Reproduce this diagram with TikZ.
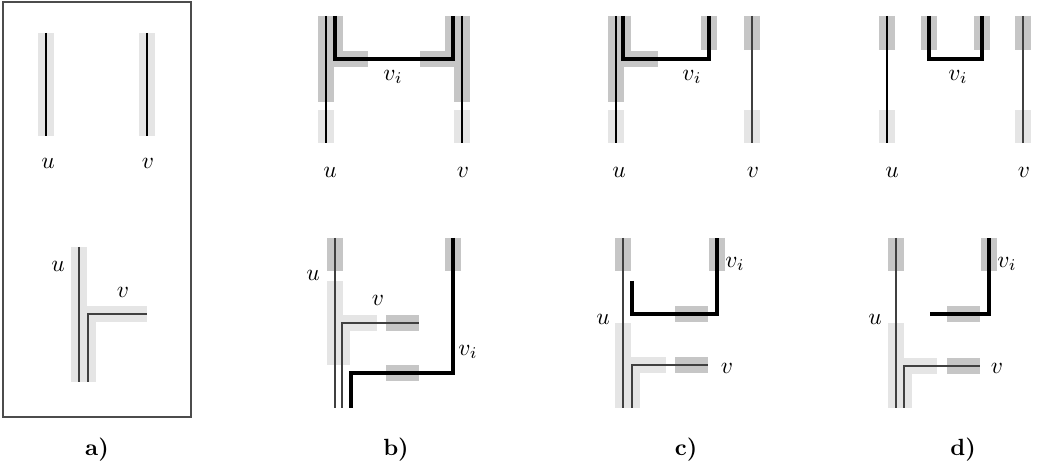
\documentclass[tikz,border=0pt]{standalone}
\usepackage{amsmath,amssymb}
\usepackage{xcolor}
\usepackage{tikz}

\begin{document}
\begin{tikzpicture}[
  x=0.015cm, y=-0.015cm,
  lightband/.style={line width=0.24cm, draw=gray!20},
  darkband/.style={line width=0.24cm, draw=gray!45},
  wire/.style={line width=0.7pt, draw=black!75},
  viwire/.style={line width=1.3pt, draw=black},
  lbl/.style={inner sep=0pt, font=\normalsize},
  caption/.style={inner sep=0pt, font=\bfseries}
]
\useasboundingbox (0,0) rectangle (1038,474);

% panel a
\draw [line width=0.7pt, black!70] (3,2) rectangle (191,417);
\draw [lightband] (46,33) -- (46,136);
\draw [lightband] (147,33) -- (147,136);
\draw [lightband] (79,247) -- (79,382);
\draw [lightband, miter limit=4] (88,382) -- (88,314) -- (147,314);
\draw [wire, black] (46,33) -- (46,136);
\draw [wire, black] (147,33) -- (147,136);
\draw [wire] (79,247) -- (79,382);
\draw [wire] (88,382) -- (88,314) -- (147,314);
\node (ua1) [lbl] at (48,163) {$u$};
\node (va1) [lbl] at (148,163) {$v$};
\node (ua2) [lbl] at (58,266) {$u$};
\node (va2) [lbl] at (123,292) {$v$};

% panel b
\draw [darkband] (326,16) -- (326,102);
\draw [darkband] (462,16) -- (462,102);
\draw [darkband] (335,16) -- (335,59) -- (368,59);
\draw [darkband] (420,59) -- (453,59) -- (453,16);
\draw [lightband] (326,110) -- (326,143);
\draw [lightband] (462,110) -- (462,143);
\draw [wire, black] (326,16) -- (326,143);
\draw [wire, black] (462,16) -- (462,143);
\draw [viwire] (335,16) -- (335,59) -- (453,59) -- (453,16);
\node (vib1) [lbl] at (393,77) {$v_i$};
\node (ub1) [lbl] at (330,172) {$u$};
\node (vb1) [lbl] at (463,172) {$v$};

\draw [darkband] (335,238) -- (335,271);
\draw [darkband] (453,238) -- (453,271);
\draw [darkband] (386,323) -- (419,323);
\draw [darkband] (386,373) -- (419,373);
\draw [lightband] (335,281) -- (335,365);
\draw [lightband] (342,365) -- (342,323) -- (377,323);
\draw [wire] (335,238) -- (335,408);
\draw [wire] (342,408) -- (342,323) -- (419,323);
\draw [viwire] (453,238) -- (453,373) -- (351,373) -- (351,408);
\node (ub2) [lbl] at (313,275) {$u$};
\node (vb2) [lbl] at (378,300) {$v$};
\node (vib2) [lbl] at (468,352) {$v_i$};

% panel c
\draw [darkband] (616,16) -- (616,102);
\draw [darkband] (623,16) -- (623,59) -- (658,59);
\draw [darkband] (709,16) -- (709,50);
\draw [darkband] (752,16) -- (752,50);
\draw [lightband] (616,110) -- (616,143);
\draw [lightband] (752,110) -- (752,143);
\draw [wire, black] (616,16) -- (616,143);
\draw [wire] (752,16) -- (752,143);
\draw [viwire] (623,16) -- (623,59) -- (709,59) -- (709,16);
\node (vic1) [lbl] at (692,77) {$v_i$};
\node (uc1) [lbl] at (619,172) {$u$};
\node (vc1) [lbl] at (753,172) {$v$};

\draw [darkband] (623,238) -- (623,271);
\draw [darkband] (717,238) -- (717,271);
\draw [darkband] (675,314) -- (708,314);
\draw [darkband] (675,365) -- (708,365);
\draw [lightband] (623,323) -- (623,408);
\draw [lightband] (632,408) -- (632,365) -- (666,365);
\draw [wire] (623,238) -- (623,408);
\draw [wire] (632,408) -- (632,365) -- (708,365);
\draw [viwire] (632,281) -- (632,314) -- (717,314) -- (717,238);
\node (uc2) [lbl] at (603,319) {$u$};
\node (vc2) [lbl] at (727,368) {$v$};
\node (vic2) [lbl] at (735,264) {$v_i$};

% panel d
\draw [darkband] (887,16) -- (887,50);
\draw [darkband] (929,16) -- (929,50);
\draw [darkband] (982,16) -- (982,50);
\draw [darkband] (1023,16) -- (1023,50);
\draw [lightband] (887,110) -- (887,143);
\draw [lightband] (1023,110) -- (1023,143);
\draw [wire, black] (887,16) -- (887,143);
\draw [wire] (1023,16) -- (1023,143);
\draw [viwire] (929,16) -- (929,59) -- (982,59) -- (982,16);
\node (vid1) [lbl] at (958,77) {$v_i$};
\node (ud1) [lbl] at (892,172) {$u$};
\node (vd1) [lbl] at (1024,172) {$v$};

\draw [darkband] (896,238) -- (896,271);
\draw [darkband] (989,238) -- (989,271);
\draw [darkband] (947,314) -- (980,314);
\draw [darkband] (947,366) -- (980,366);
\draw [lightband] (896,323) -- (896,408);
\draw [lightband] (904,408) -- (904,366) -- (937,366);
\draw [wire] (896,238) -- (896,408);
\draw [wire] (904,408) -- (904,366) -- (980,366);
\draw [viwire] (930,314) -- (989,314) -- (989,238);
\node (ud2) [lbl] at (875,319) {$u$};
\node (vd2) [lbl] at (997,368) {$v$};
\node (vid2) [lbl] at (1007,264) {$v_i$};

% captions
\node (capa) [caption] at (97,450) {a)};
\node (capb) [caption] at (396,450) {b)};
\node (capc) [caption] at (686,450) {c)};
\node (capd) [caption] at (963,450) {d)};
\end{tikzpicture}
\end{document}
